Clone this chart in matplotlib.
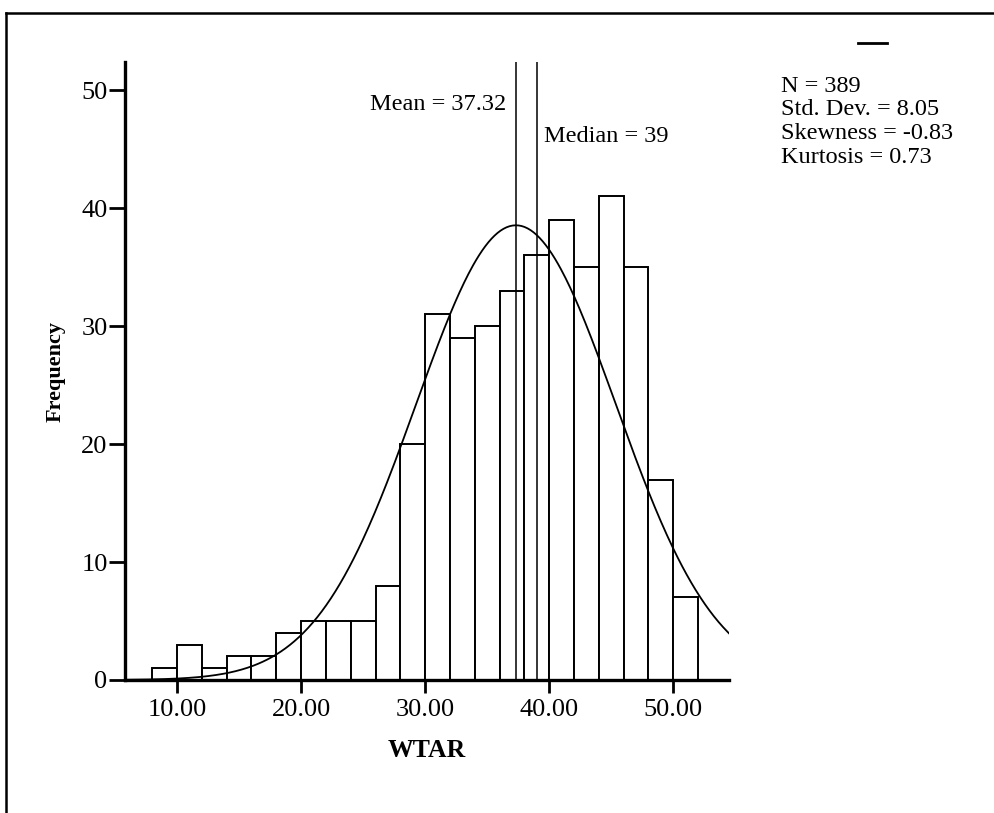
import numpy as np
import matplotlib
matplotlib.use("Agg")
import matplotlib.pyplot as plt
from matplotlib.lines import Line2D

# ======================================================
# Data
# ======================================================
bin_edges = [8, 10, 12, 14, 16, 18, 20, 22, 24, 26, 28, 30,
             32, 34, 36, 38, 40, 42, 44, 46, 48, 50, 52]
counts = [1, 3, 1, 2, 2, 4, 5, 5, 5, 8, 20,
          31, 29, 30, 33, 36, 39, 35, 41, 35, 17, 7]

n_obs = 389
mean_val = 37.32
median_val = 39
std_val = 8.05
skew_val = -0.83
kurt_val = 0.73

xtick_vals = [10, 20, 30, 40, 50]
ytick_vals = [0, 10, 20, 30, 40, 50]

# ======================================================
# Figure
# ======================================================
plt.rcParams["font.family"] = ["Liberation Serif", "DejaVu Serif"]

fig = plt.figure(figsize=(9.95, 8.13), dpi=100)
ax = fig.add_axes([0.1256, 0.1636, 0.6071, 0.7601])

widths = np.diff(bin_edges)
ax.bar(bin_edges[:-1], counts, width=widths, align="edge",
       facecolor="white", edgecolor="black", linewidth=1.4, zorder=2)

# normal curve from the summary stats
bw = bin_edges[1] - bin_edges[0]
xs = np.linspace(5.8, 54.5, 400)
ys = n_obs * bw / (std_val * np.sqrt(2 * np.pi)) * np.exp(-0.5 * ((xs - mean_val) / std_val) ** 2)
ax.plot(xs, ys, color="black", linewidth=1.3, zorder=3)

# mean / median lines
ax.axvline(mean_val, color="black", linewidth=1.1, zorder=4)
ax.axvline(median_val, color="black", linewidth=1.1, zorder=4)
ax.text(mean_val - 0.75, 48.8, f"Mean = {mean_val:.2f}", ha="right", va="center", fontsize=17.5)
ax.text(median_val + 0.6, 46.1, f"Median = {median_val}", ha="left", va="center", fontsize=17.5)

ax.set_xlim(5.8, 54.5)
ax.set_ylim(0, 52.4)
ax.set_xticks(xtick_vals)
ax.set_xticklabels([f"{v:.2f}" for v in xtick_vals], fontsize=19)
ax.set_yticks(ytick_vals)
ax.set_yticklabels([str(v) for v in ytick_vals], fontsize=19)
ax.tick_params(axis="x", direction="out", length=9.5, width=2, color="black", pad=4.5)
ax.tick_params(axis="y", direction="out", length=11.5, width=2, color="black", pad=1)

for side in ["top", "right"]:
    ax.spines[side].set_visible(False)
for side in ["left", "bottom"]:
    ax.spines[side].set_linewidth(2.4)

ax.set_xlabel("WTAR", fontsize=18.5, fontweight="bold", labelpad=13)
ax.set_ylabel("Frequency", fontsize=16, fontweight="bold", labelpad=11)

# summary box
fig.text(0.785, 0.907,
         f"N = {n_obs}\nStd. Dev. = {std_val:.2f}\nSkewness = {skew_val:.2f}\nKurtosis = {kurt_val:.2f}",
         ha="left", va="top", fontsize=17.5, linespacing=1.18)
fig.add_artist(Line2D([0.862, 0.891], [0.947, 0.947], color="black", linewidth=2))

# outer frame (only top and left edges visible)
fig.add_artist(Line2D([0.006, 0.006], [0.0, 0.984], color="black", linewidth=1.8))
fig.add_artist(Line2D([0.006, 1.0], [0.984, 0.984], color="black", linewidth=1.8))

plt.savefig("out.png", dpi=100)
plt.close()
